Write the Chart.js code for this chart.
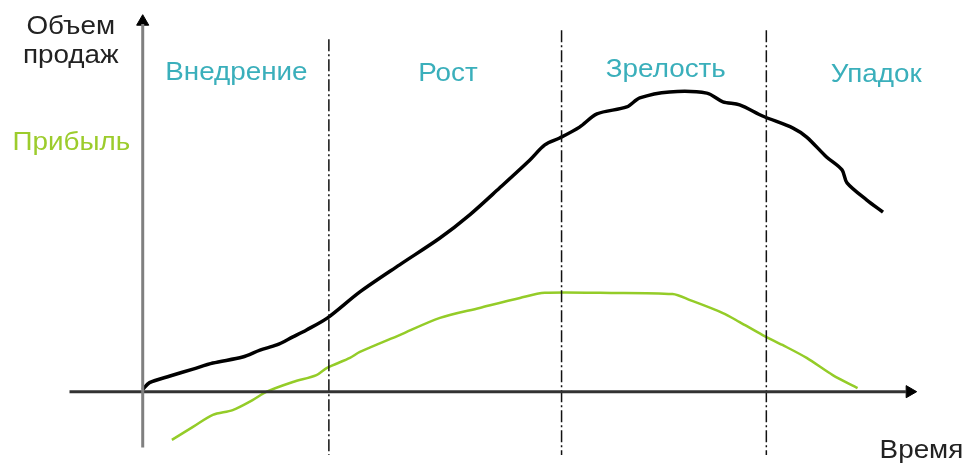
<!DOCTYPE html>
<html>
<head>
<meta charset="utf-8">
<script src="https://cdn.jsdelivr.net/npm/chart.js@4"></script>
<style>
  body { margin: 0; background: #fff; }
  canvas { display: block; }
</style>
</head>
<body>
<canvas id="grafico" width="968" height="467"></canvas>
<script>
// время (усл. ед.) и объем продаж
var tiempoVentas = [0, 1.1, 4.4, 8.1, 11.3, 16.1, 18.9, 21.6, 24.2, 26.4, 29.8, 35, 41.4, 47.9, 52.7, 57.5, 62.4, 64.8, 67.2, 70.4, 73.2, 78, 80.1, 84.9, 90.9, 93.5, 96.2, 99.9, 104.8, 107, 110.2, 112.7, 113.5, 116.7, 119.3];
var ventas = [0.7, 3, 5.2, 7.5, 9.5, 11.5, 13.8, 15.5, 18.2, 20.5, 24.5, 33.1, 42.1, 51, 58.7, 67.6, 76.9, 81.9, 84.2, 87.8, 92.2, 94.5, 97.5, 99.5, 99.1, 96.2, 95.2, 91.5, 87.5, 84.5, 77.9, 73.6, 69.3, 63.6, 59.6];

// прибыль
var tiempoGanancia = [4.7, 8.1, 11.3, 14.5, 17.7, 20, 24.2, 28, 29.7, 33.4, 35, 41.4, 47.9, 54.3, 60.8, 64.8, 73.7, 85.4, 88.2, 93.5, 96.2, 99.9, 103.1, 107, 111.2, 115.2];
var ganancia = [-16, -11.7, -7.7, -6.1, -2.8, 0, 3.2, 5.5, 7.9, 11.2, 13.2, 18.8, 24.5, 27.8, 31.1, 32.8, 32.8, 32.4, 30.4, 26.1, 23.1, 18.8, 15.5, 11.2, 5.5, 1.2];

// стадии жизненного цикла
var etapas = ['Внедрение', 'Рост', 'Зрелость', 'Упадок'];
var limitesEtapas = [30, 67.5, 100.5];

function puntos(xs, ys) {
    return xs.map(function (x, i) { return { x: x, y: ys[i] }; });
}

var lineasEtapas = limitesEtapas.map(function (t, i) {
    return {
        data: [{ x: t, y: i === 0 ? 117 : 120 }, { x: t, y: -21 }],
        showLine: true,
        borderColor: '#111',
        borderWidth: 1.5,
        borderDash: [12, 3, 2, 3],
        pointRadius: 0
    };
});

// подписи (текст по координатам данных)
var textos = {
    id: 'textos',
    afterDatasetsDraw: function (chart) {
        var ctx = chart.ctx, sx = chart.scales.x, sy = chart.scales.y;
        function escribir(txt, t, v, color) {
            var px = sx.getPixelForValue(t), py = sy.getPixelForValue(v);
            ctx.save();
            ctx.translate(px, py);
            ctx.scale(1.07, 1); // шрифт оригинала чуть шире
            ctx.fillStyle = color;
            ctx.fillText(txt, 0, 0);
            ctx.restore();
        }
        ctx.save();
        ctx.font = '26px "Liberation Sans", Arial, sans-serif';
        ctx.textAlign = 'center';
        ctx.textBaseline = 'alphabetic';
        var centros = [[15.1, 103.4], [49.2, 103.2], [84.3, 104.4], [118.2, 102.8]];
        etapas.forEach(function (e, i) {
            escribir(e, centros[i][0], centros[i][1], '#3aafbb');
        });
        escribir('Объем', -11.6, 118.6, '#222');
        escribir('продаж', -11.6, 109.2, '#222');
        escribir('Прибыль', -11.5, 80.3, '#9ccc2c');
        escribir('Время', 125.5, -22, '#222');
        ctx.restore();
    }
};

var ctx = document.getElementById('grafico').getContext('2d');
new Chart(ctx, {
    type: 'scatter',
    data: {
        datasets: [
            { // ось Y
                data: [{ x: 0, y: -18.5 }, { x: 0, y: 122 }],
                showLine: true, borderColor: '#808080', borderWidth: 3, pointRadius: 0
            },
            { // ось X
                data: [{ x: -11.8, y: 0 }, { x: 123, y: 0 }],
                showLine: true, borderColor: '#333', borderWidth: 3, pointRadius: 0
            },
            { // стрелка Y
                data: [{ x: 0, y: 122.8 }],
                pointStyle: 'triangle', pointRadius: 7, backgroundColor: '#000', borderColor: '#000', borderWidth: 1
            },
            { // стрелка X
                data: [{ x: 123.6, y: 0 }],
                pointStyle: 'triangle', rotation: 90, pointRadius: 7, backgroundColor: '#000', borderColor: '#000', borderWidth: 1
            }
        ].concat(lineasEtapas).concat([
            {
                label: 'Объем продаж',
                data: puntos(tiempoVentas, ventas),
                showLine: true,
                borderColor: '#000',
                borderWidth: 3.5,
                tension: 0.3,
                pointRadius: 0
            },
            {
                label: 'Прибыль',
                data: puntos(tiempoGanancia, ganancia),
                showLine: true,
                borderColor: '#94cc28',
                borderWidth: 2.5,
                tension: 0.3,
                pointRadius: 0
            }
        ])
    },
    options: {
        responsive: false,
        animation: false,
        layout: { padding: 0, autoPadding: false },
        scales: {
            x: { type: 'linear', min: -23, max: 133, display: false },
            y: { type: 'linear', min: -25, max: 130, display: false }
        },
        plugins: {
            legend: { display: false },
            tooltip: { enabled: false }
        }
    },
    plugins: [textos]
});
</script>
</body>
</html>
